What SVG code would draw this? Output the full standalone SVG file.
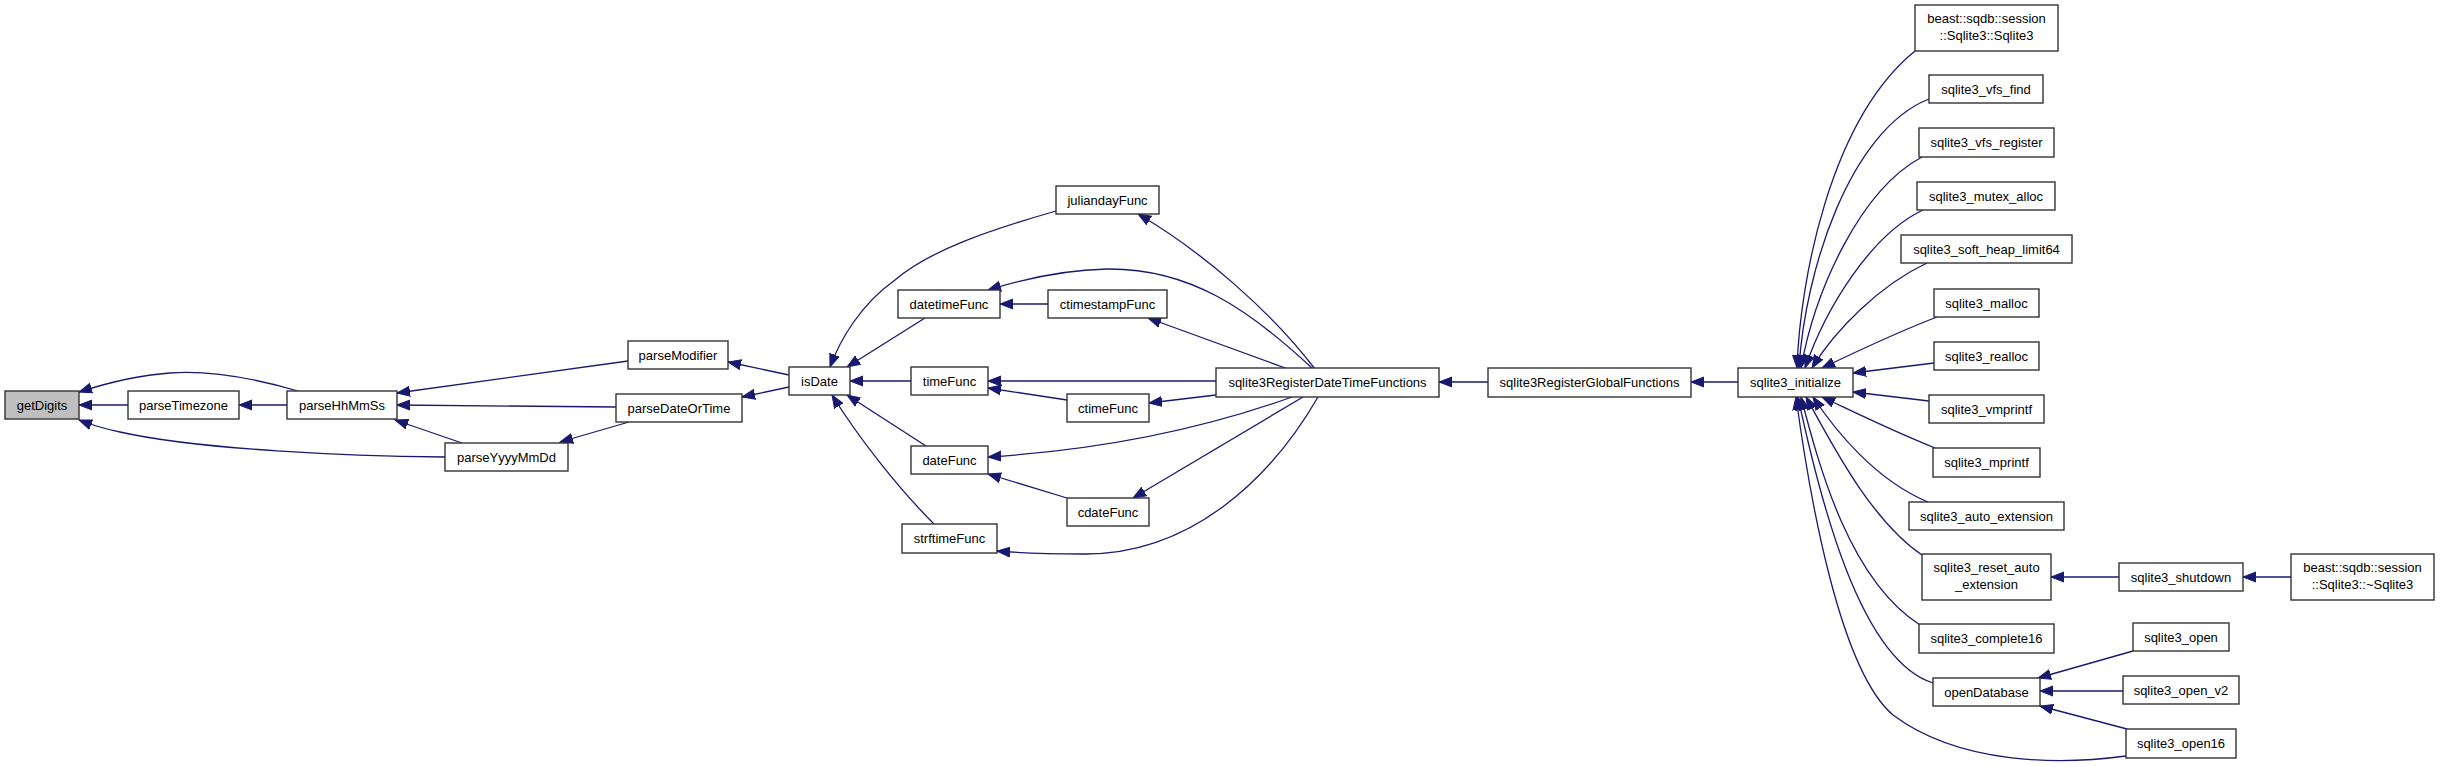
<svg xmlns="http://www.w3.org/2000/svg" width="2440" height="767" viewBox="0 0 2440 767">
<style>
.n rect{fill:#fff;stroke:#333;stroke-width:1.4}
.n.g rect{fill:#bfbfbf}
.n text{font-family:"Liberation Sans",Arial,sans-serif;font-size:13px;fill:#000;text-anchor:middle}
#edges path{fill:none;stroke:#191970;stroke-width:1.3;marker-end:url(#ah)}
</style>
<defs>
<marker id="ah" markerUnits="userSpaceOnUse" markerWidth="14" markerHeight="12" refX="13" refY="5" orient="auto" viewBox="0 0 14 10">
<path d="M0,0 L13,5 L0,10 z" fill="#191970" stroke="#191970" stroke-width="1"/>
</marker>
</defs>
<rect width="2440" height="767" fill="#fff"/>
<g id="edges">
<path d="M128,405 L79,405"/>
<path d="M298,391 C260,380 210,370 170,373 C140,375 110,382 79,392"/>
<path d="M445,457 C350,456 200,450 120,432 C105,429 92,425 79,420"/>
<path d="M287,405 L239,405"/>
<path d="M462,443 L395,420"/>
<path d="M628,361 L397,393"/>
<path d="M616,407 L397,405"/>
<path d="M629,422 L560,442"/>
<path d="M789,375 L728,362"/>
<path d="M789,387 L742,397"/>
<path d="M1056,211 C990,230 930,250 895,280 C860,305 840,340 830,367"/>
<path d="M925,318 L847,367"/>
<path d="M911,381 L850,381"/>
<path d="M926,446 L847,395"/>
<path d="M934,524 C900,490 860,440 832,395"/>
<path d="M1048,304 L1000,304"/>
<path d="M1315,369 C1270,310 1200,250 1138,214"/>
<path d="M1313,369 C1250,310 1190,268 1107,269 C1060,270 1020,280 988,290"/>
<path d="M1288,369 L1148,318"/>
<path d="M1216,381 L988,381"/>
<path d="M1067,400 L988,388"/>
<path d="M1216,395 L1149,403"/>
<path d="M1292,397 C1200,430 1100,450 988,457"/>
<path d="M1067,498 L988,474"/>
<path d="M1303,397 L1133,498"/>
<path d="M1318,397 C1270,480 1190,555 1083,554 C1050,554 1020,553 997,551"/>
<path d="M1488,382 L1439,382"/>
<path d="M1738,382 L1691,382"/>
<path d="M1915,51 C1830,120 1800,280 1797,368"/>
<path d="M1929,99 C1850,130 1805,270 1799,368"/>
<path d="M1922,157 C1860,190 1815,290 1801,368"/>
<path d="M1923,210 C1870,235 1825,310 1805,368"/>
<path d="M1927,263 C1880,285 1835,330 1812,368"/>
<path d="M1937,317 C1890,335 1850,355 1822,368"/>
<path d="M1934,363 L1853,373"/>
<path d="M1929,401 L1853,392"/>
<path d="M1935,448 C1890,430 1850,410 1822,397"/>
<path d="M1928,502 C1875,480 1835,430 1813,397"/>
<path d="M1922,555 C1870,520 1830,440 1806,397"/>
<path d="M1920,625 C1850,580 1820,470 1801,397"/>
<path d="M1933,683 C1860,660 1820,500 1798,397"/>
<path d="M2126,756 C2060,765 1960,765 1893,715 C1840,670 1810,500 1796,397"/>
<path d="M2119,577 L2051,577"/>
<path d="M2291,577 L2243,577"/>
<path d="M2133,651 L2038,678"/>
<path d="M2123,691 L2040,691"/>
<path d="M2127,729 L2040,706"/>
</g>
<g id="getDigits" class="n g"><rect x="5" y="391" width="74" height="28"/><text x="42" y="409.5">getDigits</text></g>
<g id="parseTimezone" class="n"><rect x="128" y="391" width="111" height="28"/><text x="183.5" y="409.5">parseTimezone</text></g>
<g id="parseHhMmSs" class="n"><rect x="287" y="391" width="110" height="28"/><text x="342" y="409.5">parseHhMmSs</text></g>
<g id="parseYyyyMmDd" class="n"><rect x="445" y="443" width="123" height="28"/><text x="506.5" y="461.5">parseYyyyMmDd</text></g>
<g id="parseModifier" class="n"><rect x="628" y="341" width="100" height="28"/><text x="678" y="359.5">parseModifier</text></g>
<g id="parseDateOrTime" class="n"><rect x="616" y="394" width="126" height="28"/><text x="679" y="412.5">parseDateOrTime</text></g>
<g id="isDate" class="n"><rect x="789" y="367" width="61" height="28"/><text x="819.5" y="385.5">isDate</text></g>
<g id="juliandayFunc" class="n"><rect x="1056" y="186" width="103" height="28"/><text x="1107.5" y="204.5">juliandayFunc</text></g>
<g id="datetimeFunc" class="n"><rect x="898" y="290" width="102" height="28"/><text x="949" y="308.5">datetimeFunc</text></g>
<g id="ctimestampFunc" class="n"><rect x="1048" y="290" width="119" height="28"/><text x="1107.5" y="308.5">ctimestampFunc</text></g>
<g id="timeFunc" class="n"><rect x="911" y="367" width="77" height="28"/><text x="949.5" y="385.5">timeFunc</text></g>
<g id="ctimeFunc" class="n"><rect x="1067" y="394" width="82" height="28"/><text x="1108" y="412.5">ctimeFunc</text></g>
<g id="dateFunc" class="n"><rect x="911" y="446" width="77" height="28"/><text x="949.5" y="464.5">dateFunc</text></g>
<g id="cdateFunc" class="n"><rect x="1067" y="498" width="82" height="28"/><text x="1108" y="516.5">cdateFunc</text></g>
<g id="strftimeFunc" class="n"><rect x="902" y="524" width="95" height="29"/><text x="949.5" y="543">strftimeFunc</text></g>
<g id="sqlite3RegisterDateTimeFunctions" class="n"><rect x="1216" y="368" width="223" height="29"/><text x="1327.5" y="387">sqlite3RegisterDateTimeFunctions</text></g>
<g id="sqlite3RegisterGlobalFunctions" class="n"><rect x="1488" y="368" width="203" height="29"/><text x="1589.5" y="387">sqlite3RegisterGlobalFunctions</text></g>
<g id="sqlite3_initialize" class="n"><rect x="1738" y="368" width="115" height="29"/><text x="1795.5" y="387">sqlite3_initialize</text></g>
<g id="beast_Sqlite3" class="n"><rect x="1915" y="5" width="143" height="46"/><text x="1986.5" y="23">beast::sqdb::session</text><text x="1986.5" y="40">::Sqlite3::Sqlite3</text></g>
<g id="sqlite3_vfs_find" class="n"><rect x="1929" y="75" width="114" height="28"/><text x="1986" y="93.5">sqlite3_vfs_find</text></g>
<g id="sqlite3_vfs_register" class="n"><rect x="1919" y="128" width="135" height="29"/><text x="1986.5" y="147">sqlite3_vfs_register</text></g>
<g id="sqlite3_mutex_alloc" class="n"><rect x="1917" y="182" width="138" height="28"/><text x="1986" y="200.5">sqlite3_mutex_alloc</text></g>
<g id="sqlite3_soft_heap_limit64" class="n"><rect x="1901" y="235" width="171" height="28"/><text x="1986.5" y="253.5">sqlite3_soft_heap_limit64</text></g>
<g id="sqlite3_malloc" class="n"><rect x="1934" y="289" width="105" height="28"/><text x="1986.5" y="307.5">sqlite3_malloc</text></g>
<g id="sqlite3_realloc" class="n"><rect x="1934" y="342" width="105" height="28"/><text x="1986.5" y="360.5">sqlite3_realloc</text></g>
<g id="sqlite3_vmprintf" class="n"><rect x="1929" y="395" width="115" height="28"/><text x="1986.5" y="413.5">sqlite3_vmprintf</text></g>
<g id="sqlite3_mprintf" class="n"><rect x="1933" y="448" width="107" height="29"/><text x="1986.5" y="467">sqlite3_mprintf</text></g>
<g id="sqlite3_auto_extension" class="n"><rect x="1909" y="502" width="155" height="28"/><text x="1986.5" y="520.5">sqlite3_auto_extension</text></g>
<g id="sqlite3_reset_auto_extension" class="n"><rect x="1922" y="554" width="129" height="46"/><text x="1986.5" y="572">sqlite3_reset_auto</text><text x="1986.5" y="589">_extension</text></g>
<g id="sqlite3_complete16" class="n"><rect x="1919" y="624" width="135" height="29"/><text x="1986.5" y="643">sqlite3_complete16</text></g>
<g id="openDatabase" class="n"><rect x="1933" y="678" width="107" height="28"/><text x="1986.5" y="696.5">openDatabase</text></g>
<g id="sqlite3_shutdown" class="n"><rect x="2119" y="563" width="124" height="28"/><text x="2181" y="581.5">sqlite3_shutdown</text></g>
<g id="beast_dtor" class="n"><rect x="2291" y="554" width="143" height="46"/><text x="2362.5" y="572">beast::sqdb::session</text><text x="2362.5" y="589">::Sqlite3::~Sqlite3</text></g>
<g id="sqlite3_open" class="n"><rect x="2133" y="623" width="96" height="28"/><text x="2181" y="641.5">sqlite3_open</text></g>
<g id="sqlite3_open_v2" class="n"><rect x="2123" y="676" width="116" height="28"/><text x="2181" y="694.5">sqlite3_open_v2</text></g>
<g id="sqlite3_open16" class="n"><rect x="2126" y="729" width="110" height="29"/><text x="2181" y="748">sqlite3_open16</text></g>
</svg>
